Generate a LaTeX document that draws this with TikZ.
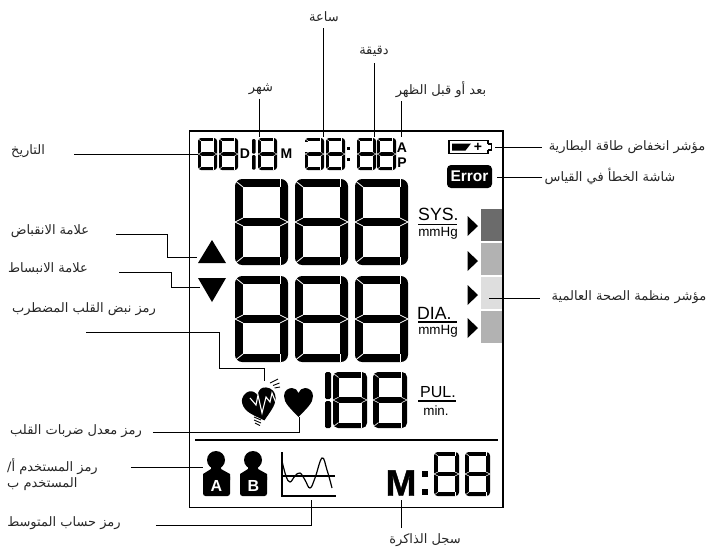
\documentclass[tikz,border=0pt]{standalone}
\usepackage{fontspec}
\setmainfont{Liberation Sans}
\setsansfont{Liberation Sans}
\newfontfamily\arabicfont[Script=Arabic]{DejaVu Sans}
\newfontfamily\heavyfont[FakeBold=1.2]{Liberation Sans Bold}
\TeXXeTstate=1
\usetikzlibrary{calc, positioning}
\definecolor{bardark}{gray}{0.42}
\definecolor{barmid}{gray}{0.70}
\definecolor{barpale}{gray}{0.87}
\newcommand{\ar}[1]{\beginR #1\endR}
% seven segment digit: left, top, width, height, bar thickness
\newcommand{\segdigit}[5]{
	\pgfmathsetmacro{\sx}{#1}\pgfmathsetmacro{\sy}{#2}
	\pgfmathsetmacro{\sr}{#1+#3}\pgfmathsetmacro{\sb}{#2+#4}
	\pgfmathsetmacro{\sm}{#2+#4/2}\pgfmathsetmacro{\st}{#5}
	\pgfmathsetmacro{\sg}{#5/12+0.15}
	\fill[black, rounded corners=#5*0.9] (\sx, \sy) rectangle (\sr, \sb);
	\fill[white] (\sx+\st, \sy+\st) rectangle (\sr-\st, \sm-\st/2);
	\fill[white] (\sx+\st, \sm+\st/2) rectangle (\sr-\st, \sb-\st);
	\draw[white, line width=\sg] (\sx, \sy+\st*0.2) -- (\sx+\st, \sy+\st);
	\draw[white, line width=\sg] (\sr-\st, \sy) -- (\sr-\st, \sy+\st);
	\draw[white, line width=\sg] (\sx, \sb-\st*0.2) -- (\sx+\st, \sb-\st);
	\draw[white, line width=\sg] (\sr-\st, \sb) -- (\sr-\st, \sb-\st);
	\draw[white, line width=\sg] (\sx, \sm) -- (\sx+\st, \sm-\st/2);
	\draw[white, line width=\sg] (\sx, \sm) -- (\sx+\st, \sm+\st/2);
	\draw[white, line width=\sg] (\sr, \sm) -- (\sr-\st, \sm-\st/2);
	\draw[white, line width=\sg] (\sr, \sm) -- (\sr-\st, \sm+\st/2);
}

\begin{document}
\begin{tikzpicture}[
	x=1pt, y=-1pt,
	% Styles for the callouts
	leader/.style={draw=black, line width=1pt},
	calltext/.style={font=\arabicfont\fontsize{13}{16}\selectfont, text=black!85, inner sep=0pt, align=left, yshift=-1.5pt},
	% Styles for the display marks
	unitbig/.style={font=\sffamily\fontsize{17.7}{17.7}\selectfont, inner sep=0pt},
	unitsmall/.style={font=\sffamily\fontsize{13.4}{13.4}\selectfont, inner sep=0pt},
	flagtext/.style={font=\sffamily\bfseries\fontsize{14}{14}\selectfont, inner sep=0pt},
	unitrule/.style={draw=black, line width=1.2pt},
	pointer/.style={fill=black},
	userbody/.style={fill=black, rounded corners=2.5pt}
	]
	\useasboundingbox (0, 0) rectangle (711, 547);
	
	% ==========================================
	% DISPLAY FRAME
	% ==========================================
	\draw[line width=1pt] (189.5, 131) rectangle (503, 507.5);
	\draw[line width=2pt] (189, 131) -- (503, 131) -- (503, 508);
	\draw[line width=1.6pt] (195, 440) -- (498, 440);
	
	% ==========================================
	% DATE AND CLOCK ROW
	% ==========================================
	\segdigit{198}{138}{19}{32}{3.4}
	\segdigit{219}{138}{19}{32}{3.4}
	\node[flagtext] (dayflag) at (245, 153.5) {D};
	\fill[black, rounded corners=1pt] (252, 139) rectangle (255.5, 153.5);
	\fill[black, rounded corners=1pt] (252, 155) rectangle (255.5, 169.5);
	\segdigit{258}{138}{19}{32}{3.4}
	\node[flagtext] (monthflag) at (286.5, 153.5) {M};
	\segdigit{305}{138}{19}{32}{3.4}
	\fill[white] (304, 142) rectangle (308.8, 152.4);
	\segdigit{326}{138}{19}{32}{3.4}
	\fill[black] (346.5, 146.5) rectangle (349.5, 149.5);
	\fill[black] (346.5, 158) rectangle (349.5, 161);
	\segdigit{357}{138}{19}{32}{3.4}
	\segdigit{377}{138}{19}{32}{3.4}
	\node[flagtext] (amflag) at (402, 147.5) {A};
	\node[flagtext] (pmflag) at (402, 163) {P};
	
	% Battery and error flags
	\draw[line width=1.4pt] (488, 144) -- (488, 140.5) -- (449, 140.5) -- (449, 153.5) -- (488, 153.5) -- (488, 150);
	\draw[line width=1.2pt] (488, 144) -- (491.5, 144) -- (491.5, 150) -- (488, 150);
	\fill[black] (452, 143.5) -- (471, 143.5) -- (465.5, 150.5) -- (452, 150.5) -- cycle;
	\node[font=\sffamily\bfseries\fontsize{14}{14}\selectfont, inner sep=0pt] (batteryplus) at (478, 147) {+};
	\node[fill=black, text=white, rounded corners=4pt, minimum width=45pt, minimum height=23pt, inner sep=0pt, font=\sffamily\bfseries\fontsize{15.5}{15.5}\selectfont] (errorflag) at (469.5, 176.5) {Error};
	
	% ==========================================
	% SYSTOLIC AND DIASTOLIC DIGITS
	% ==========================================
	\segdigit{235}{179}{53}{86}{8}
	\segdigit{295}{179}{53}{86}{8}
	\segdigit{355}{179}{53}{86}{8}
	\segdigit{235}{276}{53}{86}{8}
	\segdigit{295}{276}{53}{86}{8}
	\segdigit{355}{276}{53}{86}{8}
	
	% Up and down marks
	\fill[pointer] (212, 240) -- (226, 263) -- (198, 263) -- cycle;
	\fill[pointer] (198, 278) -- (226, 278) -- (212, 302) -- cycle;
	
	% Units
	\node[unitbig, anchor=base west] (sysunit) at (418, 220) {SYS.};
	\draw[unitrule] (418, 224.5) -- (457, 224.5);
	\node[unitsmall] (sysmm) at (438, 233) {mmHg};
	\node[unitbig, anchor=base west] (diaunit) at (417, 319.5) {DIA.};
	\draw[unitrule] (418, 322) -- (457, 322);
	\node[unitsmall] (diamm) at (438, 331) {mmHg};
	
	% ==========================================
	% CLASSIFICATION BARS
	% ==========================================
	\fill[bardark] (481, 209) rectangle (502, 241);
	\fill[barmid] (481, 243) rectangle (502, 275);
	\fill[barpale] (481, 277) rectangle (502, 309);
	\fill[barmid] (481, 311) rectangle (502, 343);
	\foreach \py in {216, 251, 285, 318} {
		\fill[pointer] (467.5, \py) -- (478, \py+10) -- (467.5, \py+20) -- cycle;
	}
	
	% ==========================================
	% PULSE ROW
	% ==========================================
	% Irregular beat heart
	\begin{scope}[shift={(260, 404)}, rotate=15]
		\fill[black] (0, 17) .. controls (-9, 9) and (-17, 4) .. (-17, -5) .. controls (-17, -12) and (-11, -15) .. (-7, -15) .. controls (-4, -15) and (-1, -12) .. (0, -9) .. controls (1, -12) and (4, -15) .. (7, -15) .. controls (11, -15) and (17, -12) .. (17, -5) .. controls (17, 4) and (9, 9) .. (0, 17) -- cycle;
	\end{scope}
	\draw[white, line width=1.1pt] (250, 398) -- (256, 405) -- (258, 395) -- (262, 413) -- (266, 397) -- (270, 402) -- (272, 393) -- (276, 403);
	\draw[line width=0.9pt] (270, 383) -- (278, 379);
	\draw[line width=0.9pt] (273, 385.5) -- (279.5, 383);
	\draw[line width=0.9pt] (274.5, 388) -- (280, 387);
	\draw[line width=0.9pt] (254, 417) -- (261, 420);
	\draw[line width=0.9pt] (254, 420) -- (261, 423);
	\draw[line width=0.9pt] (255, 423) -- (260, 425.5);
	
	% Plain heart
	\fill[black] (298.5, 417) .. controls (290, 408) and (284, 403) .. (284, 396) .. controls (284, 390) and (289, 388) .. (292, 388) .. controls (295, 388) and (297.5, 390) .. (298.5, 393) .. controls (299.5, 390) and (302, 388) .. (305, 388) .. controls (309, 388) and (313, 391) .. (313, 396) .. controls (313, 403) and (307, 408) .. (298.5, 417) -- cycle;
	
	% Pulse digits
	\fill[black, rounded corners=1.5pt] (325, 372) rectangle (331, 399);
	\fill[black, rounded corners=1.5pt] (325, 401) rectangle (331, 428);
	\segdigit{333}{372}{34}{56}{5.5}
	\segdigit{373}{372}{34}{56}{5.5}
	\node[unitbig, anchor=base west, font=\sffamily\fontsize{16}{16}\selectfont] (pulunit) at (420, 397) {PUL.};
	\draw[unitrule] (418, 401) -- (456, 401);
	\node[unitsmall] (minunit) at (436, 411) {min.};
	
	% ==========================================
	% USER, AVERAGE AND MEMORY ROW
	% ==========================================
	\fill[black] (216, 460) circle (9);
	\fill[black] (211, 466) -- (221, 466) -- (221, 469) -- (230, 474) -- (230, 480) -- (203, 480) -- (203, 474) -- (211, 469) -- cycle;
	\fill[userbody] (203, 474) rectangle (230, 496);
	\node[font=\sffamily\bfseries\fontsize{16}{16}\selectfont, text=white, inner sep=0pt] (useraflag) at (216.5, 486) {A};
	\fill[black] (253, 460) circle (9);
	\fill[black] (248, 466) -- (258, 466) -- (258, 469) -- (267, 474) -- (267, 480) -- (240, 480) -- (240, 474) -- (248, 469) -- cycle;
	\fill[userbody] (240, 474) rectangle (267, 496);
	\node[font=\sffamily\bfseries\fontsize{16}{16}\selectfont, text=white, inner sep=0pt] (userbflag) at (253.5, 486) {B};
	
	% Average chart
	\draw[line width=1.2pt] (282, 452) -- (282, 496) -- (336, 496);
	\draw[line width=2pt] (282, 476) -- (335, 476);
	\draw[line width=1.2pt] plot[smooth, tension=0.7] coordinates {(282, 461) (286, 476) (290, 482) (295, 476) (300, 473) (305, 480) (310, 488) (315, 478) (322, 458) (327, 470) (332, 488)};
	
	% Memory
	\node[font=\heavyfont\fontsize{37}{37}\selectfont, inner sep=0pt] (memoryflag) at (401, 483) {M};
	\fill[black] (422, 470.5) rectangle (428, 476.5);
	\fill[black] (422, 489) rectangle (428, 495);
	\segdigit{434}{452}{25}{44}{4}
	\segdigit{465}{452}{25}{44}{4}
	
	% ==========================================
	% CALLOUT LABELS
	% ==========================================
	\node[calltext] (hourlabel) at (324, 15) {\ar{ساعة}};
	\node[calltext] (minutelabel) at (374, 50) {\ar{دقيقة}};
	\node[calltext] (monthlabel) at (261, 88) {\ar{شهر}};
	\node[calltext] (ampmlabel) at (441, 88) {\ar{بعد أو قبل الظهر}};
	\node[calltext] (datelabel) at (28, 150) {\ar{التاريخ}};
	\node[calltext] (batterylabel) at (627, 146) {\ar{مؤشر انخفاض طاقة البطارية}};
	\node[calltext] (errorlabel) at (610, 175) {\ar{شاشة الخطأ في القياس}};
	\node[calltext] (wholabel) at (629, 296) {\ar{مؤشر منظمة الصحة العالمية}};
	\node[calltext] (syslabel) at (50, 230) {\ar{علامة الانقباض}};
	\node[calltext] (dialabel) at (48, 267) {\ar{علامة الانبساط}};
	\node[calltext] (irregularlabel) at (84, 308) {\ar{رمز نبض القلب المضطرب}};
	\node[calltext] (pulselabel) at (76, 430) {\ar{رمز معدل ضربات القلب}};
	\node[calltext, anchor=north west] (userlabel) at (7, 457) {\ar{رمز المستخدم أ/}\\\ar{المستخدم ب}};
	\node[calltext] (averagelabel) at (64, 522) {\ar{رمز حساب المتوسط}};
	\node[calltext] (memorylabel) at (425, 539) {\ar{سجل الذاكرة}};
	
	% Free ends on the display
	\coordinate (hourtip) at (323, 137);
	\coordinate (minutetip) at (374, 137);
	\coordinate (monthtip) at (259, 137);
	\coordinate (ampmtip) at (401, 137);
	\coordinate (datetip) at (198, 154);
	\coordinate (batterytip) at (495, 147);
	\coordinate (errortip) at (497, 177);
	\coordinate (whotip) at (489, 298);
	\coordinate (sysknee) at (167, 234);
	\coordinate (systip) at (197, 257);
	\coordinate (diaknee) at (171, 272);
	\coordinate (diatip) at (200, 287);
	\coordinate (irregularstart) at (86, 332);
	\coordinate (irregularknee) at (219, 332);
	\coordinate (irregularstep) at (264, 368);
	\coordinate (irregulartip) at (264, 381);
	\coordinate (pulseknee) at (299, 432);
	\coordinate (pulsetip) at (299, 417);
	\coordinate (usertip) at (203, 467);
	\coordinate (averageknee) at (311, 525);
	\coordinate (averagetip) at (311, 500);
	\coordinate (memorytip) at (401, 500);
	\coordinate (memoryend) at (401, 528);
	
	% Connectors
	\draw[leader, shorten <=6.5pt] (hourlabel.south -| hourtip) -- (hourtip);
	\draw[leader, shorten <=6.5pt] (minutelabel.south -| minutetip) -- (minutetip);
	\draw[leader, shorten <=3.5pt] (monthlabel.south -| monthtip) -- (monthtip);
	\draw[leader, shorten <=3.5pt] (ampmlabel.south -| ampmtip) -- (ampmtip);
	\draw[leader, shorten <=29pt] (datelabel.east |- datetip) -- (datetip);
	\draw[leader, shorten <=7pt] (batterylabel.west |- batterytip) -- (batterytip);
	\draw[leader, shorten <=2pt] (errorlabel.west |- errortip) -- (errortip);
	\draw[leader, shorten <=12pt] (wholabel.west |- whotip) -- (whotip);
	\draw[leader, shorten <=27pt] (syslabel.east |- sysknee) -- (sysknee) |- (systip);
	\draw[leader, shorten <=31pt] (dialabel.east |- diaknee) -- (diaknee) |- (diatip);
	\draw[leader] (irregularstart) -- (irregularknee) |- (irregularstep) -- (irregulartip);
	\draw[leader, shorten <=11pt] (pulselabel.east |- pulseknee) -- (pulseknee) -- (pulsetip);
	\draw[leader, shorten <=33pt] (userlabel.east |- usertip) -- (usertip);
	\draw[leader, shorten <=35pt] (averagelabel.east |- averageknee) -- (averageknee) -- (averagetip);
	\draw[leader] (memoryend) -- (memorytip);
	
\end{tikzpicture}
\end{document}
